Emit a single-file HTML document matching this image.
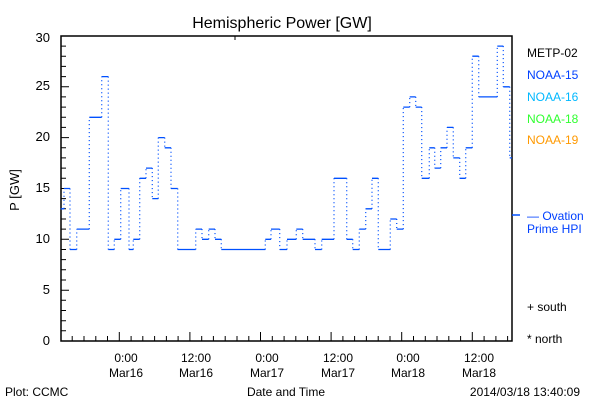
<!DOCTYPE html>
<html><head><style>body{margin:0;background:#fff}svg{display:block}text{font-family:"Liberation Sans",sans-serif}</style></head><body>
<svg width="600" height="400" xmlns="http://www.w3.org/2000/svg">
<rect width="600" height="400" fill="#fff"/>
<text x="282" y="28" font-size="16" text-anchor="middle">Hemispheric Power [GW]</text>
<rect x="61" y="36" width="451" height="305" fill="none" stroke="#000" stroke-width="1.5"/>
<line x1="235" y1="36" x2="235" y2="40" stroke="#000"/>
<path stroke="#000" stroke-width="1" fill="none" d="M61 341h8M61 330.8h5M61 320.7h5M61 310.5h5M61 300.3h5M61 290.2h8M61 280h5M61 269.8h5M61 259.6h5M61 249.5h5M61 239.3h8M61 229.1h5M61 219h5M61 208.8h5M61 198.6h5M61 188.5h8M61 178.3h5M61 168.1h5M61 157.9h5M61 147.8h5M61 137.6h8M61 127.4h5M61 117.3h5M61 107.1h5M61 96.9h5M61 86.8h8M61 76.6h5M61 66.4h5M61 56.2h5M61 46.1h5"/>
<path stroke="#000" stroke-width="1" fill="none" d="M72.2 341v-5M84 341v-5M95.8 341v-5M107.5 341v-5M119.3 341v-9M131.1 341v-5M142.8 341v-5M154.6 341v-5M166.4 341v-5M178.1 341v-5M189.9 341v-9M201.7 341v-5M213.4 341v-5M225.2 341v-5M237 341v-5M248.8 341v-5M260.5 341v-9M272.3 341v-5M284.1 341v-5M295.8 341v-5M307.6 341v-5M319.4 341v-5M331.1 341v-9M342.9 341v-5M354.6 341v-5M366.4 341v-5M378.2 341v-5M390 341v-5M401.7 341v-9M413.5 341v-5M425.3 341v-5M437 341v-5M448.8 341v-5M460.6 341v-5M472.3 341v-9M484.1 341v-5M495.9 341v-5M507.6 341v-5"/>
<g font-size="13" text-anchor="end">
<text x="50" y="345">0</text><text x="50" y="294">5</text><text x="50" y="243">10</text><text x="50" y="192">15</text><text x="50" y="141">20</text><text x="50" y="90">25</text><text x="50" y="42">30</text>
</g>
<text transform="translate(19,190) rotate(-90)" font-size="13" text-anchor="middle">P [GW]</text>
<g font-size="12" text-anchor="middle">
<text x="126" y="362">0:00</text><text x="126" y="377">Mar16</text>
<text x="196" y="362">12:00</text><text x="196" y="377">Mar16</text>
<text x="267" y="362">0:00</text><text x="267" y="377">Mar17</text>
<text x="338" y="362">12:00</text><text x="338" y="377">Mar17</text>
<text x="408" y="362">0:00</text><text x="408" y="377">Mar18</text>
<text x="479" y="362">12:00</text><text x="479" y="377">Mar18</text>
<text x="286" y="396">Date and Time</text>
</g>
<text x="5" y="396" font-size="12">Plot: CCMC</text>
<text x="580" y="396" font-size="12" text-anchor="end">2014/03/18 13:40:09</text>
<g font-size="12">
<text x="527" y="57" fill="#000">METP-02</text>
<text x="527" y="79" fill="#0040ff">NOAA-15</text>
<text x="527" y="101" fill="#00b8ff">NOAA-16</text>
<text x="527" y="123" fill="#30ff30">NOAA-18</text>
<text x="527" y="144" fill="#ff9900">NOAA-19</text>
<text x="527" y="220" fill="#0040ff">— Ovation</text>
<text x="527" y="233" fill="#0040ff">Prime HPI</text>
<text x="527" y="311">+ south</text>
<text x="527" y="343">* north</text>
</g>
<line x1="512" y1="215" x2="520" y2="215" stroke="#0050ff" stroke-width="1.5"/>
<path fill="none" stroke="#0050ff" stroke-width="1.3" d="M60.7 208.8H64M64 188.5H70M70 249.5H76.7M76.7 229.1H89.3M89.3 117.3H101.7M101.7 76.6H108.3M108.3 249.5H114.3M114.3 239.3H120.7M120.7 188.5H129M129 249.5H133.3M133.3 239.3H139.7M139.7 178.3H146M146 168.1H152.3M152.3 198.6H158.3M158.3 137.6H164.7M164.7 147.8H171M171 188.5H177.7M177.7 249.5H195.7M195.7 229.1H202M202 239.3H208.7M208.7 229.1H215M215 239.3H221.3M221.3 249.5H265.3M265.3 239.3H271M271 229.1H279.7M279.7 249.5H287M287 239.3H296.3M296.3 229.1H302.7M302.7 239.3H315M315 249.5H321.7M321.7 239.3H334M334 178.3H346.7M346.7 239.3H352.7M352.7 249.5H359.3M359.3 229.1H365.7M365.7 208.8H372M372 178.3H378.3M378.3 249.5H390.3M390.3 219H396.7M396.7 229.1H403.3M403.3 107.1H409.7M409.7 96.9H415.7M415.7 107.1H421.7M421.7 178.3H429.3M429.3 147.8H434.7M434.7 168.1H440.7M440.7 147.8H447M447 127.4H453.3M453.3 157.9H459.7M459.7 178.3H465.7M465.7 147.8H472.3M472.3 56.2H478.7M478.7 96.9H497.3M497.3 46.1H503.3M503.3 86.8H509.7M509.7 157.9H512"/>
<path fill="none" stroke="#0050ff" stroke-width="1.3" stroke-dasharray="1 3" d="M64 208.8V188.5M70 188.5V249.5M76.7 249.5V229.1M89.3 229.1V117.3M101.7 117.3V76.6M108.3 76.6V249.5M114.3 249.5V239.3M120.7 239.3V188.5M129 188.5V249.5M133.3 249.5V239.3M139.7 239.3V178.3M146 178.3V168.1M152.3 168.1V198.6M158.3 198.6V137.6M164.7 137.6V147.8M171 147.8V188.5M177.7 188.5V249.5M195.7 249.5V229.1M202 229.1V239.3M208.7 239.3V229.1M215 229.1V239.3M221.3 239.3V249.5M265.3 249.5V239.3M271 239.3V229.1M279.7 229.1V249.5M287 249.5V239.3M296.3 239.3V229.1M302.7 229.1V239.3M315 239.3V249.5M321.7 249.5V239.3M334 239.3V178.3M346.7 178.3V239.3M352.7 239.3V249.5M359.3 249.5V229.1M365.7 229.1V208.8M372 208.8V178.3M378.3 178.3V249.5M390.3 249.5V219M396.7 219V229.1M403.3 229.1V107.1M409.7 107.1V96.9M415.7 96.9V107.1M421.7 107.1V178.3M429.3 178.3V147.8M434.7 147.8V168.1M440.7 168.1V147.8M447 147.8V127.4M453.3 127.4V157.9M459.7 157.9V178.3M465.7 178.3V147.8M472.3 147.8V56.2M478.7 56.2V96.9M497.3 96.9V46.1M503.3 46.1V86.8M509.7 86.8V157.9"/>
</svg>
</body></html>
